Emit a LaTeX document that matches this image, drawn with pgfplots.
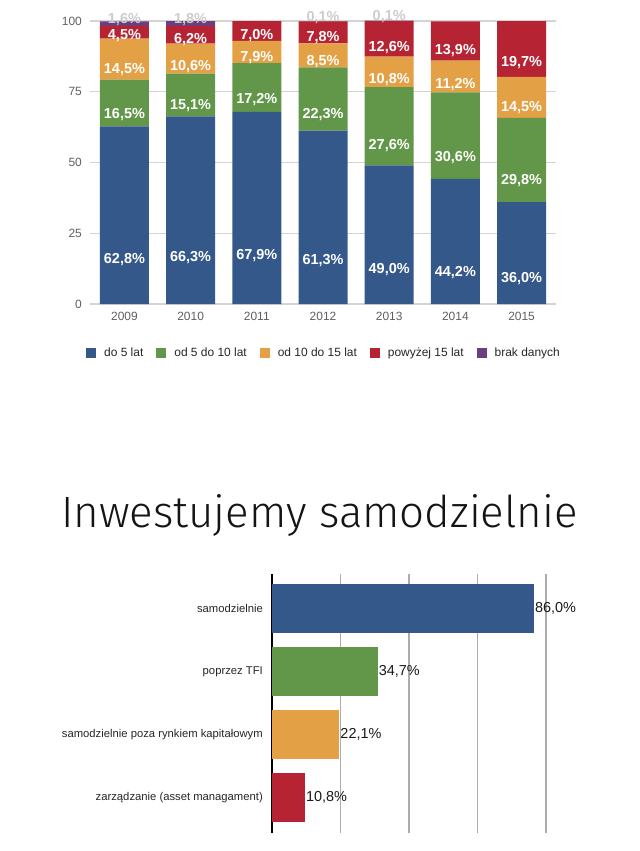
\documentclass[border=0pt]{standalone}
\usepackage{pgfplots}
\usepackage{pgfplotstable}
\pgfplotsset{compat=1.18}
\usepackage{fontspec}
\setmainfont{Liberation Sans}
\newfontfamily\titlefont{Fira Sans Light}
\definecolor{cblue}{RGB}{52,88,138}
\definecolor{cgreen}{RGB}{98,151,73}
\definecolor{corange}{RGB}{228,160,68}
\definecolor{cred}{RGB}{182,36,52}
\definecolor{cpurple}{RGB}{109,62,127}
\definecolor{tickgray}{RGB}{95,95,95}
\definecolor{gridgray}{RGB}{212,212,212}
\pgfplotsset{/pgf/number format/assume math mode=true}

\pgfplotstableread{
x a b c d e
0 62.8 16.5 14.5 4.5 1.6
1 66.3 15.1 10.6 6.2 1.8
2 67.9 17.2 7.9 7.0 0
3 61.3 22.3 8.5 7.8 0.1
4 49.0 27.6 10.8 12.6 0.1
5 44.2 30.6 11.2 13.9 0
6 36.0 29.8 14.5 19.7 0
}\stackdata

\pgfplotsset{
  seg/.style={fill=#1, draw=none,
    nodes near coords={\pgfmathprintnumber[fixed,fixed zerofill,precision=1,use comma]{\pgfplotspointmeta}\%},
    every node near coord/.append style={text=white, font=\fontsize{14.5}{16}\selectfont\bfseries, anchor=center, inner sep=0pt, yshift={-\rawy*0.7102pt}}},
}

\begin{document}
\begin{tikzpicture}
\path[use as bounding box] (0,0) rectangle (640bp,-851bp);

% ---------- top: stacked bars ----------
\begin{axis}[
  at={(90bp,-304bp)}, anchor=south west,
  scale only axis, width=466bp, height=283bp,
  ybar stacked, bar width=49bp,
  xmin=-0.52, xmax=6.52, ymin=0, ymax=100,
  xtick={0,1,2,3,4,5,6},
  xticklabels={2009,2010,2011,2012,2013,2014,2015},
  ytick={0,25,50,75,100},
  ymajorgrids, grid style={gridgray, line width=1.3bp},
  axis line style={draw=none}, major tick length=0pt,
  tick label style={text=tickgray, font=\fontsize{12}{14}\selectfont, inner sep=0pt},
  yticklabel style={xshift=-8bp},
  xticklabel style={yshift=-8bp},
  clip=false,
  legend columns=5,
  legend image code/.code={\fill[#1] (0bp,-5bp) rectangle (10bp,5bp);},
  legend style={at={(0.5,-0.1731)}, anchor=center, draw=none, fill=none,
    font=\fontsize{12}{14}\selectfont, text=black!85, inner sep=0pt,
    nodes={inner sep=0pt},
    /tikz/every odd column/.append style={column sep=8bp},
    /tikz/every even column/.append style={column sep=13bp}},
]
\addplot[seg=cblue, visualization depends on={\thisrow{a}\as\rawy}] table[x=x,y=a,meta=a]{\stackdata};
\addplot[seg=cgreen, visualization depends on={\thisrow{b}\as\rawy}] table[x=x,y=b,meta=b]{\stackdata};
\addplot[seg=corange, visualization depends on={\thisrow{c}\as\rawy}] table[x=x,y=c,meta=c]{\stackdata};
\addplot[seg=cred, visualization depends on={\thisrow{d}\as\rawy}] table[x=x,y=d,meta=d]{\stackdata};
\addplot[fill=cpurple, draw=none,
  nodes near coords={\pgfmathfloatifflags{\pgfplotspointmeta}{0}{}{\pgfmathprintnumber[fixed,fixed zerofill,precision=1,use comma]{\pgfplotspointmeta}\%}},
  every node near coord/.append style={text=gray!40, font=\fontsize{14.5}{16}\selectfont\bfseries, anchor=center, inner sep=0pt, yshift=4bp}]
  table[x=x,y=e,meta=e]{\stackdata};
\legend{do 5 lat, od 5 do 10 lat, od 10 do 15 lat, powyżej 15 lat, brak danych}
\end{axis}

% ---------- title ----------
\node[anchor=base, inner sep=0pt, text=black!92] at (319.5bp,-527bp) {\titlefont\fontsize{44}{50}\selectfont Inwestujemy samodzielnie};

% ---------- bottom: horizontal bars ----------
\begin{axis}[
  at={(272bp,-833bp)}, anchor=south west,
  scale only axis, width=274bp, height=259bp,
  xbar, bar width=49bp, bar shift=0pt,
  xmin=0, xmax=90, ymin=-0.55, ymax=3.56, y dir=reverse,
  xtick={22.5,45,67.5,90}, xticklabels={},
  extra x ticks={0}, extra x tick labels={},
  extra x tick style={grid style={black, line width=1.5bp}},
  xmajorgrids, grid style={gray!65, line width=1.2bp},
  ytick={0,1,2,3},
  yticklabels={samodzielnie, poprzez TFI, samodzielnie poza rynkiem kapitałowym, zarządzanie (asset managament)},
  yticklabel style={font=\fontsize{11.3}{13}\selectfont, text=black!85, inner sep=0pt, xshift=-9bp},
  axis line style={draw=none}, major tick length=0pt,
  point meta=x,
  nodes near coords={\pgfmathprintnumber[fixed,fixed zerofill,precision=1,use comma]{\pgfplotspointmeta}\%},
  every node near coord/.append style={font=\fontsize{14.5}{16}\selectfont, text=black!90, anchor=west, inner sep=1bp},
  clip=false,
]
\addplot[fill=cblue, draw=none] coordinates {(86.0,0)};
\addplot[fill=cgreen, draw=none] coordinates {(34.7,1)};
\addplot[fill=corange, draw=none] coordinates {(22.1,2)};
\addplot[fill=cred, draw=none] coordinates {(10.8,3)};
\end{axis}
\end{tikzpicture}
\end{document}
